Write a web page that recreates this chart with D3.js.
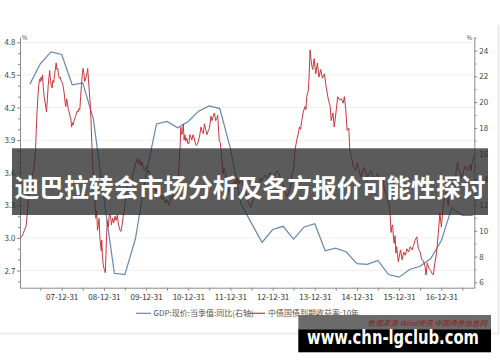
<!DOCTYPE html>
<html><head><meta charset="utf-8">
<script src="https://cdn.jsdelivr.net/npm/d3@7"></script>
<style>
html,body{margin:0;padding:0;background:#fff;}
svg{display:block;font-family:"Noto Sans CJK SC","Noto Sans",sans-serif;}
</style></head>
<body>
<svg id="chart" width="500" height="362"></svg>
<script>
// GDP: nominal, quarterly YoY (%) — right axis
const gdpDates = ["2007-03-31","2007-06-30","2007-09-30","2007-12-31","2008-03-31","2008-06-30","2008-09-30","2008-12-31",
"2009-03-31","2009-06-30","2009-09-30","2009-12-31","2010-03-31","2010-06-30","2010-09-30","2010-12-31",
"2011-03-31","2011-06-30","2011-09-30","2011-12-31","2012-03-31","2012-06-30","2012-09-30","2012-12-31",
"2013-03-31","2013-06-30","2013-09-30","2013-12-31","2014-03-31","2014-06-30","2014-09-30","2014-12-31",
"2015-03-31","2015-06-30","2015-09-30","2015-12-31","2016-03-31","2016-06-30","2016-09-30","2016-12-31",
"2017-03-31","2017-06-30","2017-09-30"];
const gdpValues = [21.4,23.0,23.9,23.7,21.35,21.5,18.7,12.5,
6.7,6.6,9.4,14.4,18.3,18.5,18.0,18.5,
19.3,19.7,19.5,16.4,12.1,10.6,9.1,10.1,
10.35,9.35,10.3,10.55,8.45,8.65,8.35,7.45,
7.4,7.7,6.6,6.4,7.0,7.25,7.85,9.25,
11.8,11.2,11.2];

// China government bond yield, 10Y (%) — left axis
const bondYield10Y = [
["2007-01-04",3.00],["2007-01-18",3.01],["2007-02-01",3.04],["2007-02-14",3.08],["2007-02-26",3.11],["2007-03-06",3.20],["2007-03-14",3.33],["2007-03-24",3.40],["2007-04-04",3.48],["2007-04-16",3.55],["2007-04-28",3.60],["2007-05-10",3.70],["2007-05-18",3.80],["2007-05-25",4.00],["2007-05-31",4.15],["2007-06-08",4.30],["2007-06-15",4.40],["2007-06-22",4.46],["2007-06-30",4.44],["2007-07-06",4.48],["2007-07-12",4.45],["2007-07-18",4.50],["2007-07-25",4.38],["2007-08-01",4.30],["2007-08-08",4.26],["2007-08-15",4.20],["2007-08-22",4.16],["2007-08-29",4.28],["2007-09-05",4.40],["2007-09-12",4.48],["2007-09-18",4.54],["2007-09-25",4.45],["2007-10-02",4.40],["2007-10-09",4.38],["2007-10-16",4.45],["2007-10-23",4.43],["2007-10-30",4.50],["2007-11-06",4.55],["2007-11-13",4.61],["2007-11-20",4.55],["2007-11-27",4.56],["2007-12-04",4.50],["2007-12-11",4.47],["2007-12-18",4.48],["2007-12-25",4.45],
["2008-01-08",4.42],["2008-01-15",4.38],["2008-01-22",4.33],["2008-01-29",4.25],["2008-02-05",4.21],["2008-02-12",4.28],["2008-02-19",4.24],["2008-02-26",4.18],["2008-03-05",4.16],["2008-03-12",4.12],["2008-03-19",4.10],["2008-03-26",4.02],["2008-04-02",4.06],["2008-04-09",4.04],["2008-04-16",4.08],["2008-04-23",4.10],["2008-04-30",4.12],["2008-05-08",4.15],["2008-05-15",4.17],["2008-05-22",4.16],["2008-05-29",4.19],["2008-06-05",4.18],["2008-06-12",4.30],["2008-06-19",4.40],["2008-06-26",4.50],["2008-07-03",4.56],["2008-07-10",4.52],["2008-07-17",4.44],["2008-07-24",4.46],["2008-07-31",4.49],["2008-08-07",4.52],["2008-08-12",4.56],["2008-08-19",4.46],["2008-08-26",4.35],["2008-09-02",4.25],["2008-09-09",4.10],["2008-09-16",3.90],["2008-09-23",3.70],["2008-09-30",3.60],["2008-10-08",3.45],["2008-10-15",3.30],["2008-10-22",3.18],["2008-10-29",3.25],["2008-11-05",3.07],["2008-11-12",3.12],["2008-11-19",3.18],["2008-11-26",3.00],["2008-12-03",2.92],["2008-12-08",2.88],["2008-12-12",2.98],["2008-12-17",2.85],["2008-12-24",2.76],["2008-12-31",2.72],
["2009-01-06",2.70],["2009-01-12",2.68],["2009-01-19",2.90],["2009-01-28",3.16],["2009-02-06",3.10],["2009-02-16",3.22],["2009-02-26",3.20],["2009-03-06",3.12],["2009-03-16",3.18],["2009-03-26",3.14],["2009-04-06",3.20],["2009-04-16",3.16],["2009-04-26",3.21],["2009-05-06",3.12],["2009-05-16",3.08],["2009-05-26",3.06],["2009-06-06",3.12],["2009-06-16",3.20],["2009-06-26",3.26],["2009-07-06",3.36],["2009-07-16",3.45],["2009-07-26",3.50],["2009-08-06",3.55],["2009-08-16",3.48],["2009-08-26",3.50],["2009-09-06",3.58],["2009-09-16",3.62],["2009-09-26",3.66],["2009-10-06",3.70],["2009-10-16",3.73],["2009-10-26",3.68],["2009-11-06",3.72],["2009-11-16",3.66],["2009-11-26",3.70],["2009-12-06",3.65],["2009-12-16",3.62],["2009-12-26",3.64],
["2010-01-06",3.66],["2010-01-16",3.60],["2010-01-26",3.62],["2010-02-06",3.58],["2010-02-16",3.55],["2010-02-26",3.50],["2010-03-06",3.45],["2010-03-16",3.48],["2010-03-26",3.42],["2010-04-06",3.45],["2010-04-16",3.40],["2010-04-26",3.38],["2010-05-06",3.40],["2010-05-16",3.35],["2010-05-26",3.38],["2010-06-06",3.36],["2010-06-16",3.32],["2010-06-26",3.35],["2010-07-06",3.33],["2010-07-16",3.30],["2010-07-26",3.34],["2010-08-06",3.38],["2010-08-16",3.36],["2010-08-26",3.40],["2010-09-06",3.42],["2010-09-16",3.45],["2010-09-26",3.50],["2010-10-06",3.55],["2010-10-14",3.69],["2010-10-22",3.85],["2010-10-28",4.02],["2010-11-04",3.95],["2010-11-12",3.98],["2010-11-18",4.05],["2010-11-25",3.90],["2010-12-02",3.95],["2010-12-10",3.89],["2010-12-18",3.92],["2010-12-27",3.87],
["2011-01-06",3.87],["2011-01-14",3.95],["2011-01-22",3.93],["2011-01-31",3.90],["2011-02-10",3.95],["2011-02-20",3.92],["2011-02-28",3.88],["2011-03-10",3.85],["2011-03-20",3.86],["2011-03-31",3.90],["2011-04-10",3.95],["2011-04-20",4.02],["2011-04-30",3.98],["2011-05-10",3.96],["2011-05-20",4.05],["2011-05-31",4.00],["2011-06-10",3.95],["2011-06-20",3.98],["2011-06-30",4.00],["2011-07-08",4.05],["2011-07-15",4.12],["2011-07-25",4.08],["2011-08-05",4.12],["2011-08-15",4.15],["2011-08-25",4.08],["2011-09-05",4.10],["2011-09-12",4.13],["2011-09-20",3.98],["2011-09-26",3.89],["2011-10-04",3.88],["2011-10-12",3.80],["2011-10-20",3.69],["2011-10-28",3.59],["2011-11-07",3.65],["2011-11-15",3.62],["2011-11-23",3.56],["2011-12-01",3.53],["2011-12-09",3.48],["2011-12-17",3.42],["2011-12-26",3.44],
["2012-01-06",3.45],["2012-01-16",3.50],["2012-01-26",3.48],["2012-02-06",3.52],["2012-02-16",3.50],["2012-02-26",3.55],["2012-03-06",3.52],["2012-03-16",3.50],["2012-03-26",3.56],["2012-04-06",3.52],["2012-04-16",3.48],["2012-04-26",3.55],["2012-05-06",3.45],["2012-05-16",3.40],["2012-05-26",3.35],["2012-06-06",3.32],["2012-06-16",3.30],["2012-06-26",3.28],["2012-07-06",3.32],["2012-07-16",3.36],["2012-07-26",3.40],["2012-08-06",3.42],["2012-08-16",3.45],["2012-08-26",3.50],["2012-09-06",3.52],["2012-09-16",3.55],["2012-09-26",3.52],["2012-10-06",3.55],["2012-10-16",3.56],["2012-10-26",3.58],["2012-11-06",3.55],["2012-11-16",3.56],["2012-11-26",3.58],["2012-12-06",3.60],["2012-12-16",3.58],["2012-12-26",3.57],
["2013-01-08",3.55],["2013-01-18",3.58],["2013-01-28",3.60],["2013-02-08",3.62],["2013-02-18",3.60],["2013-02-28",3.58],["2013-03-08",3.55],["2013-03-18",3.52],["2013-03-28",3.50],["2013-04-08",3.46],["2013-04-18",3.42],["2013-04-28",3.40],["2013-05-08",3.38],["2013-05-18",3.42],["2013-05-28",3.45],["2013-06-08",3.50],["2013-06-18",3.60],["2013-06-29",3.62],["2013-07-13",3.81],["2013-07-27",3.90],["2013-08-08",3.95],["2013-08-19",4.02],["2013-08-29",4.00],["2013-09-09",4.08],["2013-09-22",4.16],["2013-10-07",4.21],["2013-10-15",4.18],["2013-10-22",4.30],["2013-11-05",4.36],["2013-11-12",4.50],["2013-11-20",4.73],["2013-11-28",4.64],["2013-12-06",4.58],["2013-12-13",4.55],["2013-12-25",4.65],
["2014-01-08",4.51],["2014-01-22",4.61],["2014-02-05",4.48],["2014-02-20",4.55],["2014-03-06",4.47],["2014-03-24",4.51],["2014-04-08",4.39],["2014-04-28",4.27],["2014-05-13",4.21],["2014-05-22",4.08],["2014-06-06",4.15],["2014-06-17",4.02],["2014-07-05",4.18],["2014-07-17",4.30],["2014-08-03",4.27],["2014-08-18",4.28],["2014-09-02",4.24],["2014-09-13",4.30],["2014-09-25",4.18],["2014-10-07",3.99],["2014-10-21",4.01],["2014-10-30",3.81],["2014-11-12",3.75],["2014-11-29",3.66],["2014-12-19",3.62],
["2015-01-03",3.69],["2015-02-01",3.56],["2015-03-02",3.65],["2015-03-31",3.56],["2015-04-29",3.62],["2015-05-28",3.53],["2015-06-26",3.59],["2015-07-10",3.55],["2015-07-25",3.50],["2015-08-10",3.55],["2015-08-25",3.45],["2015-09-10",3.40],["2015-09-25",3.35],["2015-10-08",3.30],["2015-10-15",3.20],["2015-10-22",3.05],["2015-10-28",3.10],["2015-11-05",3.12],["2015-11-12",3.00],["2015-11-18",2.95],["2015-11-26",3.02],["2015-12-03",2.86],["2015-12-10",2.92],["2015-12-17",2.85],["2015-12-24",2.78],["2015-12-31",2.82],
["2016-01-12",2.89],["2016-01-26",2.80],["2016-02-09",2.87],["2016-02-23",2.84],["2016-03-08",2.90],["2016-03-22",2.87],["2016-04-05",2.92],["2016-04-20",2.89],["2016-05-04",2.93],["2016-05-18",2.98],["2016-06-01",3.01],["2016-06-15",2.90],["2016-06-30",2.87],["2016-07-14",2.80],["2016-07-28",2.79],["2016-08-11",2.74],["2016-08-20",2.66],["2016-08-31",2.77],["2016-09-15",2.72],["2016-09-29",2.70],["2016-10-13",2.67],["2016-10-22",2.66],["2016-11-05",2.77],["2016-11-19",2.86],["2016-12-04",3.04],["2016-12-18",3.23],["2016-12-31",3.10],
["2017-01-12",3.25],["2017-01-20",3.33],["2017-02-01",3.38],["2017-02-10",3.42],["2017-02-20",3.35],["2017-03-01",3.30],["2017-03-10",3.42],["2017-03-20",3.38],["2017-04-01",3.35],["2017-04-12",3.45],["2017-04-22",3.50],["2017-05-02",3.55],["2017-05-12",3.66],["2017-05-22",3.70],["2017-06-01",3.62],["2017-06-12",3.60],["2017-06-22",3.55],["2017-07-03",3.58],["2017-07-13",3.62],["2017-07-24",3.66],["2017-08-03",3.64],["2017-08-14",3.62],["2017-08-24",3.65],["2017-09-04",3.67],["2017-09-14",3.62],["2017-09-25",3.70],["2017-10-10",3.75]
];

const leftTicks = [4.8,4.5,4.2,3.9,3.6,3.3,3.0,2.7];
const rightTicks = [24,22,20,18,16,14,12,10,8,6];
const xTickLabels = ["07-12-31","08-12-31","09-12-31","10-12-31","11-12-31","12-12-31","13-12-31","14-12-31","15-12-31","16-12-31"];
const legendLabels = ["GDP:现价:当季值:同比(右轴)","中债国债到期收益率:10年"];
const bannerTitle = "迪巴拉转会市场分析及各方报价可能性探讨";
const sourceNote = "数据来源:Wind资讯 中国债券信息网";
const siteMark = "www.chn-lgclub.com";

const parse = d3.utcParse("%Y-%m-%d");
const svg = d3.select("#chart");
const L = 20, R = 474.3, T = 37, B = 287.7;

const x = d3.scaleUtc().domain([parse("2007-01-04"), parse("2017-10-12")]).range([L, R]);
const yL = d3.scaleLinear().domain([2.542, 4.849]).range([B, T]);
const yR = d3.scaleLinear().domain([5.58, 25.06]).range([B, T]);

// frame of the embedded picture
svg.append("line").attr("x1",498.5).attr("x2",498.5).attr("y1",25).attr("y2",334).attr("stroke","#e4e4e4").attr("stroke-width",1.5);
svg.append("line").attr("x1",0).attr("x2",500).attr("y1",333.5).attr("y2",333.5).attr("stroke","#ececec").attr("stroke-width",2);

// gridlines
svg.append("g").selectAll("line").data(leftTicks).join("line")
  .attr("x1",L).attr("x2",R).attr("y1",d=>yL(d)).attr("y2",d=>yL(d))
  .attr("stroke","#f0f0f0").attr("stroke-width",1);

const axisColor = "#8a8a8a";
function styleAxis(g){
  g.select(".domain").attr("stroke",axisColor);
  g.selectAll(".tick line").attr("stroke",axisColor);
  g.selectAll("text").attr("fill","#444").style("font-size","8px").style("font-family","'Noto Sans CJK SC','Noto Sans',sans-serif");
}
// left axis
const gL = svg.append("g").attr("transform",`translate(${L},0)`)
  .call(d3.axisLeft(yL).tickValues(leftTicks).tickFormat(d3.format(".1f")).tickSize(3).tickSizeOuter(0).tickPadding(1.5));
styleAxis(gL);
const minorL = d3.range(26,49).map(v=>v/10).filter(v=>!leftTicks.some(t=>Math.abs(t-v)<1e-6));
svg.append("g").attr("transform",`translate(${L},0)`)
  .call(d3.axisLeft(yL).tickValues(minorL).tickFormat("").tickSize(2).tickSizeOuter(0))
  .call(g=>{g.select(".domain").remove();g.selectAll(".tick line").attr("stroke",axisColor);});
// right axis
const gR = svg.append("g").attr("transform",`translate(${R},0)`)
  .call(d3.axisRight(yR).tickValues(rightTicks).tickFormat(d3.format("d")).tickSize(3).tickSizeOuter(0).tickPadding(2));
styleAxis(gR);
const minorR = d3.range(7,26,2);
svg.append("g").attr("transform",`translate(${R},0)`)
  .call(d3.axisRight(yR).tickValues(minorR).tickFormat("").tickSize(2).tickSizeOuter(0))
  .call(g=>{g.select(".domain").remove();g.selectAll(".tick line").attr("stroke",axisColor);});
// bottom axis
const yearEnds = d3.range(2007,2017).map(y=>parse(`${y}-12-31`));
const gB = svg.append("g").attr("transform",`translate(0,${B})`)
  .call(d3.axisBottom(x).tickValues(yearEnds).tickFormat((d,i)=>xTickLabels[i]).tickSize(3).tickSizeOuter(0).tickPadding(4));
styleAxis(gB);
gB.selectAll("text").attr("fill","#333");
const halfYears = d3.range(2007,2018).map(y=>parse(`${y}-06-30`));
svg.append("g").attr("transform",`translate(0,${B})`)
  .call(d3.axisBottom(x).tickValues(halfYears).tickFormat("").tickSize(3).tickSizeOuter(0))
  .call(g=>{g.select(".domain").remove();g.selectAll(".tick line").attr("stroke",axisColor);});

// unit labels
svg.append("text").attr("x",L+2).attr("y",T+3).text("%").attr("fill","#444").style("font-size","6px");
svg.append("text").attr("x",R-2).attr("y",T+3).attr("text-anchor","end").text("%").attr("fill","#444").style("font-size","6px");

// lines
const gdpData = gdpDates.map((d,i)=>({date:parse(d),value:gdpValues[i]}));
svg.append("path").datum(gdpData)
  .attr("d",d3.line().x(d=>x(d.date)).y(d=>yR(d.value)))
  .attr("fill","none").attr("stroke","#6388b4").attr("stroke-width",1.2);
const bondData = bondYield10Y.map(([d,v])=>({date:parse(d),value:v}));
svg.append("path").datum(bondData)
  .attr("d",d3.line().x(d=>x(d.date)).y(d=>yL(d.value)))
  .attr("fill","none").attr("stroke","#c8383c").attr("stroke-width",1).attr("stroke-linejoin","round");

// legend
const lg = svg.append("g").style("font-size","8px");
lg.append("line").attr("x1",136).attr("x2",151).attr("y1",313.3).attr("y2",313.3).attr("stroke","#6388b4").attr("stroke-width",1.2);
lg.append("text").attr("x",153.5).attr("y",313.3).attr("dy","0.35em").attr("fill","#555").text(legendLabels[0]);
lg.append("line").attr("x1",250).attr("x2",265).attr("y1",313.3).attr("y2",313.3).attr("stroke","#c8383c").attr("stroke-width",1.2);
lg.append("text").attr("x",268).attr("y",313.3).attr("dy","0.35em").attr("fill","#555").text(legendLabels[1]);

// title banner
svg.append("rect").attr("x",12).attr("y",148.3).attr("width",476).attr("height",66.7).attr("fill","rgba(45,45,45,0.78)");
svg.append("text").attr("x",250).attr("y",185.5).attr("text-anchor","middle").attr("dominant-baseline","central")
  .attr("fill","#fff").style("font-size","25px").style("font-weight","700")
  .attr("textLength",471).attr("lengthAdjust","spacingAndGlyphs").text(bannerTitle);

// watermark
svg.append("rect").attr("x",298.3).attr("y",315).attr("width",192.7).attr("height",14.5).attr("fill","#6b6b6b");
svg.append("text").attr("x",487).attr("y",325.5).attr("text-anchor","end").attr("fill","#8a2222")
  .style("font-size","7.5px").style("font-style","italic").text(sourceNote);
svg.append("rect").attr("x",298.3).attr("y",329.3).attr("width",192.7).attr("height",23).attr("fill","#000");
svg.append("text").attr("x",393).attr("y",344).attr("text-anchor","middle").attr("fill","#fff")
  .style("font-size","20px").style("font-weight","700").style("font-family","'DejaVu Sans',sans-serif")
  .attr("textLength",172).attr("lengthAdjust","spacingAndGlyphs").text(siteMark);
</script>
</body></html>
